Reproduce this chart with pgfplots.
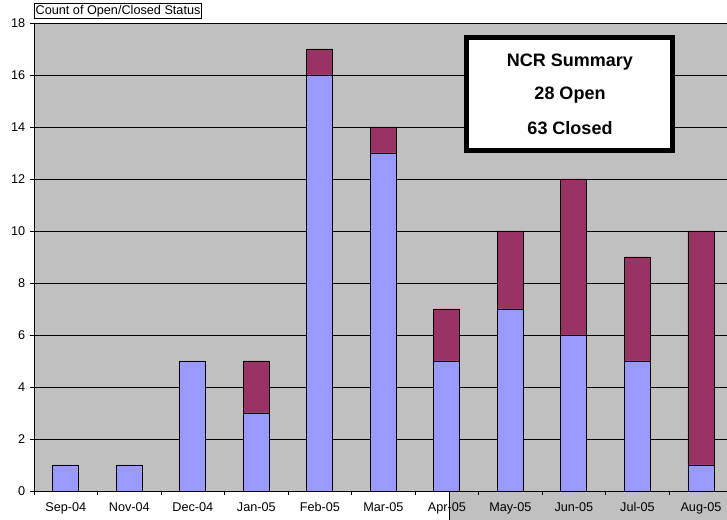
\documentclass[border=0pt]{standalone}
\usepackage{fontspec}
\setmainfont{Liberation Sans}
\usepackage{pgfplots}
\pgfplotsset{compat=1.18}
\definecolor{closedblue}{HTML}{9999FF}
\definecolor{openred}{HTML}{993366}
\definecolor{plotgray}{HTML}{C0C0C0}

\pgfplotstableread{
x closed open
0 1 0
1 1 0
2 5 0
3 3 2
4 16 1
5 13 1
6 5 2
7 7 3
8 6 6
9 5 4
10 1 9
}\ncrdata

\begin{document}
\begin{tikzpicture}
% grey strip below the axis (right part)
\fill[plotgray] (311.25pt,-21.75pt) rectangle (519.75pt,0pt);
\draw[black, line width=0.6pt] (311.25pt,-21.75pt) -- (311.25pt,0pt);
\begin{axis}[
  scale only axis, width=519.75pt, height=351pt,
  ybar stacked, bar width=19.5pt,
  xmin=-0.5, xmax=10.41, ymin=0, ymax=18,
  axis lines*=left, axis line style={black, line width=0.6pt, -},
  axis background/.style={fill=plotgray},
  xtick={0,...,10},
  xticklabels={Sep-04,Nov-04,Dec-04,Jan-05,Feb-05,Mar-05,Apr-05,May-05,Jun-05,Jul-05,Aug-05},
  major x tick style={draw=none},
  minor xtick={-0.5,0.5,...,9.5},
  minor tick length=3pt,
  ytick={0,2,...,18},
  tick align=outside, major tick length=3pt,
  tick style={black, line width=0.6pt},
  ymajorgrids, grid style={black, line width=0.5pt},
  tick label style={font=\fontsize{9.5}{11}\selectfont},
  xticklabel style={yshift=-2pt},
  /pgf/number format/assume math mode=true,
]
\addplot[fill=closedblue, draw=black, line width=0.7pt] table[x=x, y=closed] {\ncrdata};
\addplot[fill=openred, draw=black, line width=0.7pt] table[x=x, y=open] {\ncrdata};
\end{axis}
% chart title box
\node[draw=black, line width=0.5pt, fill=white, inner sep=1pt, anchor=south west,
  font=\fontsize{9.5}{11}\selectfont] at (0pt,354.5pt) {Count of Open/Closed Status};
% summary box
\draw[black, line width=3.75pt, fill=white] (324.4pt,255.4pt) rectangle (478.9pt,340.1pt);
\node[font=\fontsize{13.5}{15}\selectfont\bfseries] at (402pt,321.75pt) {NCR Summary};
\node[font=\fontsize{13.5}{15}\selectfont\bfseries] at (402pt,297pt) {28 Open};
\node[font=\fontsize{13.5}{15}\selectfont\bfseries] at (402pt,272.25pt) {63 Closed};
\pgfresetboundingbox
\path[use as bounding box] (-25.5pt,-21.75pt) rectangle (519.75pt,368.25pt);
\end{tikzpicture}
\end{document}
